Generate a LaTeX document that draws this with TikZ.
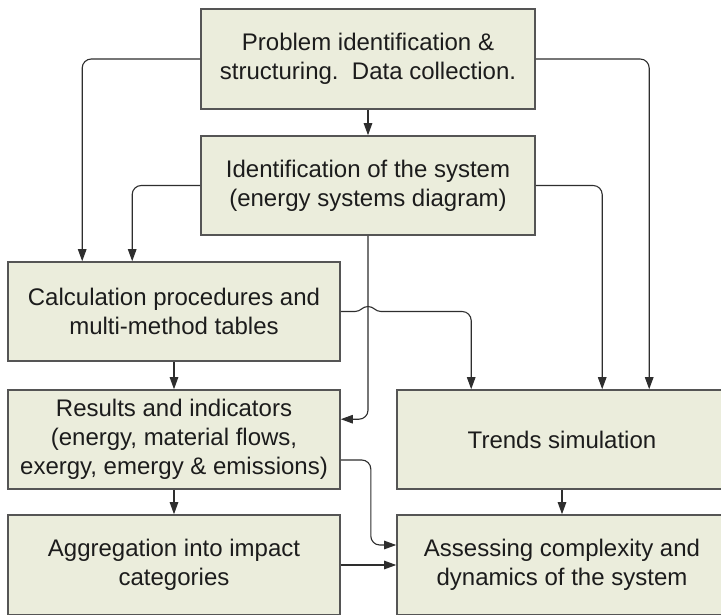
\documentclass[tikz,border=0pt]{standalone}
\usepackage{fontspec}
\setmainfont{Liberation Sans}
\usetikzlibrary{arrows.meta,calc}
\definecolor{boxfill}{HTML}{EBEDDC}
\definecolor{boxline}{HTML}{555555}
\definecolor{conline}{HTML}{2E2E2E}
\definecolor{txt}{HTML}{1C1C1C}
\begin{document}
\begin{tikzpicture}[x=1pt,y=-1pt,
  stepbox/.style={draw=boxline,line width=1.6pt,fill=boxfill,rectangle,
    inner sep=0pt,align=center,text=txt,
    font=\fontsize{24}{29}\selectfont},
  conn/.style={draw=conline,line width=1.1pt,rounded corners=9pt,
    -{Triangle[length=12pt,width=8.5pt]}},
  plain/.style={draw=conline,line width=1.1pt}]
\useasboundingbox (0,0) rectangle (721,614);
\clip (0,0) rectangle (721,614);
\fill[white] (0,0) rectangle (721,614);

\node[stepbox,minimum width=334pt,minimum height=100pt] (b1) at (368,59)
  {Problem identification \&\\structuring.\ \ Data collection.};
\node[stepbox,minimum width=334pt,minimum height=99pt] (b2) at (368,185.5)
  {Identification of the system\\(energy systems diagram)};
\node[stepbox,minimum width=332pt,minimum height=99pt] (b3) at (174,311.5)
  {Calculation procedures and\\multi-method tables};
\node[stepbox,minimum width=332pt,minimum height=99pt] (b4) at (174,439.5)
  {Results and indicators\\(energy, material flows,\\exergy, emergy \& emissions)};
\node[stepbox,minimum width=330pt,minimum height=99pt] (b5) at (562,439.5)
  {Trends simulation};
\node[stepbox,minimum width=332pt,minimum height=100pt] (b6) at (174,565)
  {Aggregation into impact\\categories};
\node[stepbox,minimum width=330pt,minimum height=100pt] (b7) at (562,565)
  {Assessing complexity and\\dynamics of the system};

% connectors
\draw[conn] (b1.south) -- (b2.north);
\draw[conn] (b1.west) -| ([xshift=75pt]b3.north west);
\draw[conn] (b1.east) -| ([xshift=253pt]b5.north west);
\draw[conn] (b2.west) -| ([xshift=125pt]b3.north west);
\draw[conn] (b2.east) -| ([xshift=206pt]b5.north west);
\draw[conn] (b2.south) |- ([yshift=-30pt]b4.north east);

\coordinate (j1) at (355,311.5);
\coordinate (j2) at (381,311.5);
\draw[plain] (b3.east) -- (j1)
  .. controls (361,311.5) and (362,306.5) .. (368,306.5)
  .. controls (374,306.5) and (375,311.5) .. (j2);
\draw[conn] (j2) -| ([xshift=75pt]b5.north west);

\draw[conn] (b3.south) -- (b4.north);
\draw[conn] (b4.south) -- (b6.north);
\draw[conn] (b5.south) -- (b7.north);
\draw[conn] (b6.east) -- (b7.west);
\draw[conn] ([yshift=-20.5pt]b4.east) -- ++(30,0) |- ([yshift=20pt]b7.west);
\end{tikzpicture}
\end{document}
